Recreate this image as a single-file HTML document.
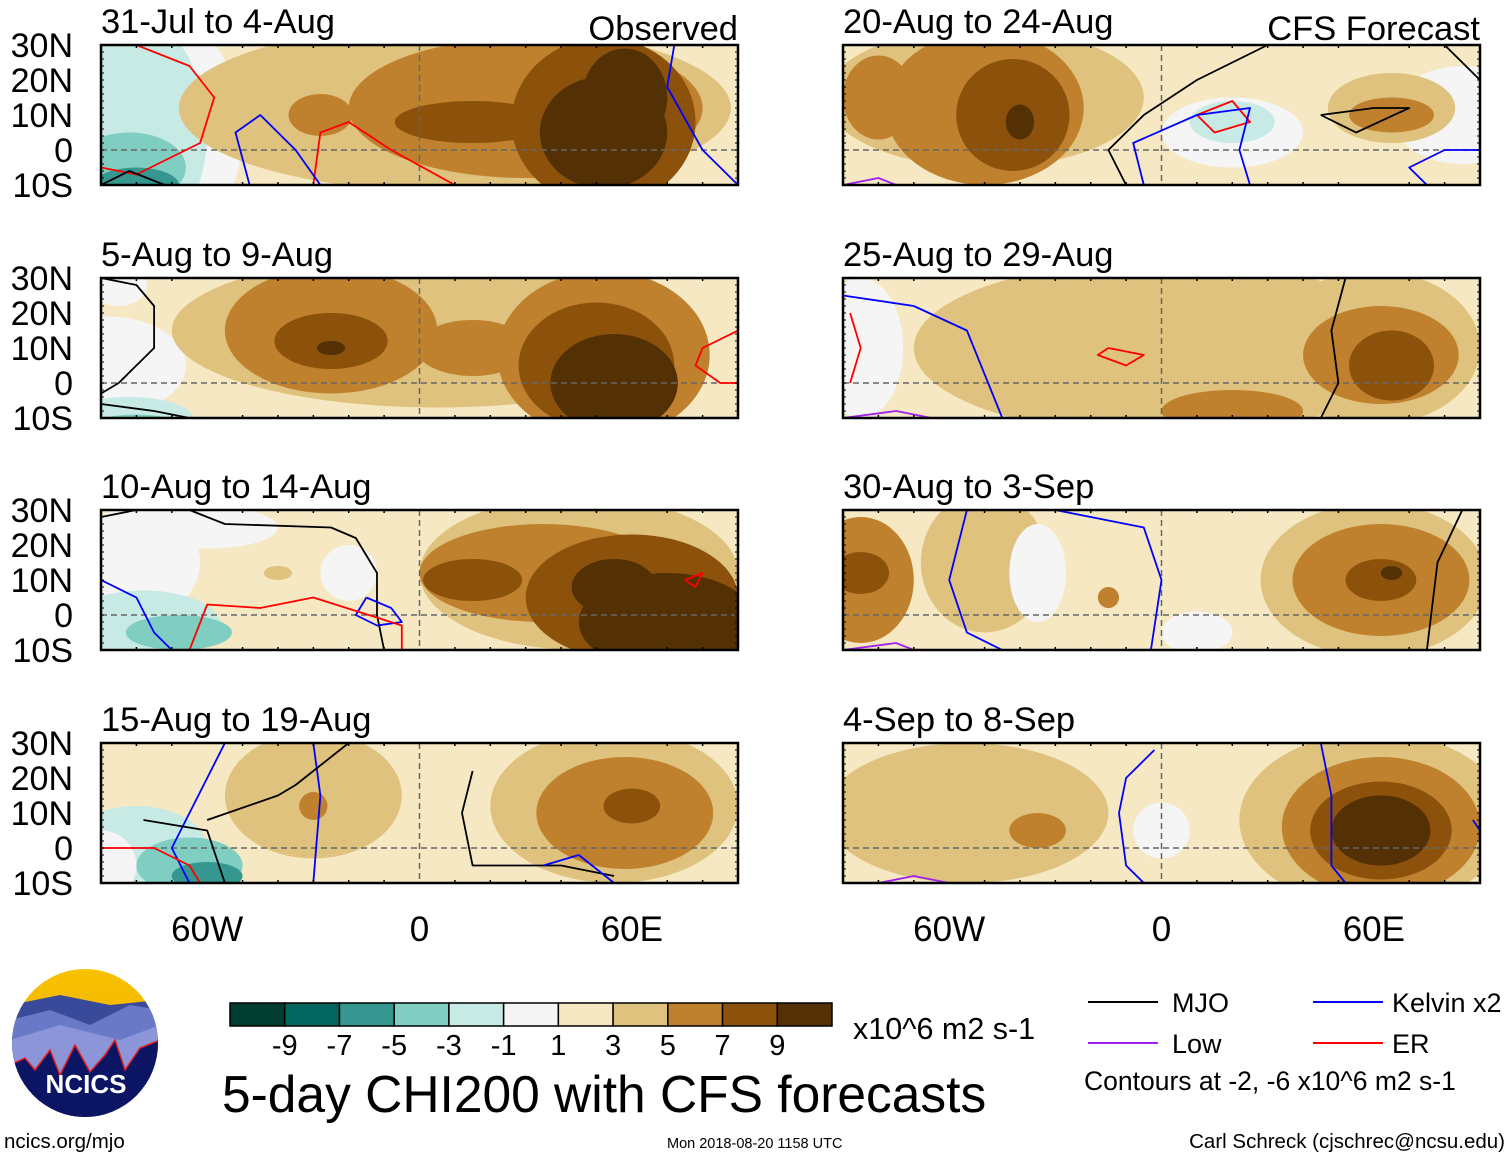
<!DOCTYPE html>
<html><head><meta charset="utf-8"><style>
body{margin:0;background:#fff;}
svg{display:block;font-family:"Liberation Sans",sans-serif;}
</style></head><body>
<svg id="fig" width="1510" height="1158" viewBox="0 0 1510 1158" xmlns="http://www.w3.org/2000/svg">
<defs>
<linearGradient id="sky" x1="0" y1="0" x2="0" y2="1"><stop offset="0" stop-color="#f7c200"/><stop offset="1" stop-color="#f0a800"/></linearGradient>
<clipPath id="logoclip"><ellipse cx="85" cy="1043" rx="73" ry="74"/></clipPath>
</defs>
<g id="panels"></g>

<g id="cbar"></g>
<text x="853" y="1039" font-size="30.5">x10^6 m2 s-1</text>
<text x="222" y="1112" font-size="51.5">5-day CHI200 with CFS forecasts</text>
<text x="4" y="1148" font-size="20.5">ncics.org/mjo</text>
<text x="667" y="1148" font-size="14.5">Mon 2018-08-20 1158 UTC</text>
<text x="1505" y="1148" font-size="20.5" text-anchor="end">Carl Schreck (cjschrec@ncsu.edu)</text>

<g>
<line x1="1088" y1="1002" x2="1158" y2="1002" stroke="#000" stroke-width="2"/>
<text x="1172" y="1012" font-size="27">MJO</text>
<line x1="1088" y1="1043" x2="1158" y2="1043" stroke="#a020f0" stroke-width="2"/>
<text x="1172" y="1053" font-size="27">Low</text>
<line x1="1313" y1="1002" x2="1383" y2="1002" stroke="#0000ff" stroke-width="2"/>
<text x="1392" y="1012" font-size="27">Kelvin x2</text>
<line x1="1313" y1="1043" x2="1383" y2="1043" stroke="#ff0000" stroke-width="2"/>
<text x="1392" y="1053" font-size="27">ER</text>
<text x="1084" y="1090" font-size="26.5">Contours at -2, -6 x10^6 m2 s-1</text>
</g>

<g clip-path="url(#logoclip)">
<rect x="10" y="968" width="150" height="150" fill="url(#sky)"/>
<polygon points="10,1005 60,995 110,1005 160,1000 160,1118 10,1118" fill="#3a4a9a"/>
<polygon points="10,1020 50,1010 90,1025 130,1005 160,1010 160,1118 10,1118" fill="#6a78c8"/>
<polygon points="10,1040 60,1025 120,1040 160,1025 160,1118 10,1118" fill="#8b95d8"/>
<polygon points="10,1065 25,1058 35,1070 50,1050 60,1075 75,1045 90,1072 105,1055 115,1040 125,1070 140,1048 160,1040 160,1118 10,1118" fill="#0c1464" stroke="#e02020" stroke-width="1.5"/>
<text x="86" y="1093" font-size="26" font-weight="bold" fill="#fff" text-anchor="middle">NCICS</text>
</g>

<script>
const palette = ["#003c30","#01665e","#35978f","#80cdc1","#c7eae5","#f5f5f5","#f6e8c3","#dfc27d","#bf812d","#8c510a","#543005"];
const cbarTicks = ["-9","-7","-5","-3","-1","1","3","5","7","9"];
const panelTitles = ["31-Jul to 4-Aug","5-Aug to 9-Aug","10-Aug to 14-Aug","15-Aug to 19-Aug","20-Aug to 24-Aug","25-Aug to 29-Aug","30-Aug to 3-Sep","4-Sep to 8-Sep"];
const latTicks = [30,20,10,0,-10];
const latLabels = ["30N","20N","10N","0","10S"];
const lonTicks = [-60,0,60];
const lonLabels = ["60W","0","60E"];
// blobs: [lon, lat, rxDeg, ryDeg, level]
const blobs0 = [[-85,5,35,40,5],[-85,5,25,35,4],[-82,-5,16,10,3],[-80,-10,12,5,2],[10,12,78,24,7],[-35,8,20,14,7],[-28,10,9,6,8],[30,12,50,20,8],[15,8,22,6,9],[52,8,26,24,9],[52,5,18,16,10],[58,15,12,14,10]];
const blobs1 = [[-88,5,22,14,5],[-85,28,8,6,5],[-82,-10,18,6,4],[-80,-12,12,3,3],[5,15,75,22,7],[-25,15,30,18,8],[-25,12,16,8,9],[-25,10,4,2,10],[15,10,16,8,8],[52,8,30,24,8],[50,5,22,18,9],[55,0,18,14,10]];
const blobs2 = [[-80,15,18,16,5],[-60,25,20,6,5],[-78,-3,22,10,4],[-68,-5,15,5,3],[-40,12,4,2,7],[-20,12,8,8,5],[45,12,45,22,7],[35,12,35,14,8],[15,10,14,6,9],[60,5,30,18,9],[70,-2,25,14,10],[55,8,12,8,10]];
const blobs3 = [[-80,0,20,12,4],[-65,-5,15,8,3],[-60,-8,10,4,2],[-90,-5,10,10,5],[-30,15,25,18,7],[-30,12,4,4,8],[55,12,35,22,7],[58,10,25,16,8],[60,12,8,5,9]];
const blobs4 = [[-50,15,45,20,7],[-50,12,28,22,8],[-42,10,16,16,9],[-40,8,4,5,10],[20,5,20,10,5],[20,8,12,6,4],[85,10,20,14,5],[65,12,18,10,7],[65,10,12,5,8],[-80,15,10,12,8]];
const blobs5 = [[0,10,70,25,7],[-85,10,12,20,5],[-5,0,40,8,7],[20,-8,20,6,8],[60,10,30,22,7],[62,8,22,14,8],[65,5,12,10,9]];
const blobs6 = [[-85,10,15,18,8],[-85,12,8,6,9],[-50,15,18,20,7],[-35,12,8,14,5],[10,-5,10,6,5],[60,10,32,22,7],[62,10,25,16,8],[62,10,10,6,9],[65,12,3,2,10],[-15,5,3,3,8]];
const blobs7 = [[-55,10,40,20,7],[-35,5,8,5,8],[60,8,38,25,7],[62,6,28,20,8],[62,5,20,14,9],[62,5,14,10,10],[0,5,8,8,5]];
// contours: [type, [[lon,lat],...]]
const lines0 = [["er",[[-80,30],[-65,24],[-58,15],[-62,2],[-80,-7],[-90,-5]]],["er",[[-30,-10],[-28,5],[-20,8],[-8,0],[10,-10]]],["kel",[[-48,-10],[-52,5],[-45,10],[-35,0],[-28,-10]]],["kel",[[72,30],[70,18],[80,0],[90,-10]]],["mjo",[[-90,-10],[-82,-6],[-72,-10]]]];
const lines1 = [["mjo",[[-90,30],[-80,28],[-75,22],[-75,10],[-85,0],[-90,-3]]],["mjo",[[-90,-6],[-75,-8],[-65,-10]]],["er",[[90,15],[80,10],[78,5],[85,0],[90,0]]]];
const lines2 = [["mjo",[[-90,28],[-80,30]]],["mjo",[[-65,30],[-55,26],[-25,25],[-18,22],[-12,12],[-12,0],[-10,-10]]],["kel",[[-90,10],[-80,5],[-75,-5],[-70,-10]]],["kel",[[-15,5],[-8,2],[-5,-2],[-12,-3],[-18,0],[-15,5]]],["er",[[-65,-10],[-60,3],[-45,2],[-30,5],[-5,-3],[-5,-10]]],["er",[[75,10],[80,12],[78,8],[75,10]]]];
const lines3 = [["kel",[[-55,30],[-65,10],[-70,0],[-65,-10]]],["kel",[[-30,30],[-28,15],[-30,-10]]],["mjo",[[-78,8],[-60,5],[-55,-10]]],["mjo",[[-20,30],[-35,18],[-40,15],[-60,8]]],["mjo",[[15,22],[12,10],[15,-5],[40,-5],[55,-8]]],["er",[[-90,0],[-75,0],[-65,-5],[-62,-10]]],["kel",[[35,-5],[45,-2],[55,-10]]]];
const lines4 = [["mjo",[[30,30],[10,20],[-5,10],[-15,0],[-10,-10]]],["er",[[10,10],[20,14],[25,8],[15,5],[10,10]]],["kel",[[-5,-10],[-8,2],[10,10],[25,12],[22,0],[25,-10]]],["mjo",[[45,10],[60,12],[70,12],[55,5],[45,10]]],["mjo",[[80,30],[90,20],[90,-10]]],["kel",[[75,-10],[70,-5],[80,0],[90,0]]],["low",[[-90,-10],[-80,-8],[-75,-10]]]];
const lines5 = [["kel",[[-90,25],[-70,22],[-55,15],[-45,-10]]],["er",[[-88,20],[-85,10],[-88,0]]],["er",[[-15,10],[-5,8],[-10,5],[-18,8],[-15,10]]],["mjo",[[52,30],[48,15],[50,0],[45,-10]]],["low",[[-90,-10],[-75,-8],[-65,-10]]]];
const lines6 = [["kel",[[-55,30],[-60,10],[-55,-5],[-45,-10]]],["kel",[[-30,30],[-5,25],[0,10],[-3,-10]]],["mjo",[[85,30],[78,15],[75,-10]]],["low",[[-90,-10],[-75,-8],[-70,-10]]]];
const lines7 = [["kel",[[-2,28],[-10,20],[-12,10],[-10,-5],[-5,-10]]],["kel",[[45,30],[48,15],[48,-5],[52,-10]]],["kel",[[88,8],[90,5]]],["low",[[-80,-10],[-70,-8],[-60,-10]]]];
const allBlobs = [blobs0,blobs1,blobs2,blobs3,blobs4,blobs5,blobs6,blobs7];
const allLines = [lines0,lines1,lines2,lines3,lines4,lines5,lines6,lines7];
const lineColors = {mjo:"#000",kel:"#0000ff",er:"#ff0000",low:"#a020f0"};

const NS="http://www.w3.org/2000/svg";
function mk(tag, attrs, parent){const e=document.createElementNS(NS,tag);for(const k in attrs)e.setAttribute(k,attrs[k]);parent.appendChild(e);return e;}
const PW=637, PH=140;
const colX=[101,843], rowY=[45,278,510,743];
const root=document.getElementById('panels');
const defs=document.querySelector('defs');
for(let p=0;p<8;p++){
  const col=p<4?0:1, row=p%4;
  const x0=colX[col], y0=rowY[row];
  const xs=lon=>x0+(lon+90)/180*PW;
  const ys=lat=>y0+(30-lat)/40*PH;
  const g=mk('g',{},root);
  
  
  const cp=mk('clipPath',{id:'cp'+p},defs);
  mk('rect',{x:x0,y:y0,width:PW,height:PH},cp);
  const inner=mk('g',{'clip-path':'url(#cp'+p+')'},g);
  mk('rect',{x:x0,y:y0,width:PW,height:PH,fill:palette[6]},inner);
  allBlobs[p].forEach(b=>{
    const e=mk('ellipse',{cx:xs(b[0]),cy:ys(b[1]),rx:b[2]/180*PW,ry:b[3]/40*PH,fill:palette[b[4]]},inner);
    
    
  });
  mk('line',{x1:x0,y1:ys(0),x2:x0+PW,y2:ys(0),stroke:'#666','stroke-width':1.5,'stroke-dasharray':'6,4'},inner);
  mk('line',{x1:xs(0),y1:y0,x2:xs(0),y2:y0+PH,stroke:'#666','stroke-width':1.5,'stroke-dasharray':'6,4'},inner);
  allLines[p].forEach(l=>{
    const d=l[1].map((pt,i)=>(i?'L':'M')+xs(pt[0]).toFixed(1)+','+ys(pt[1]).toFixed(1)).join(' ');
    const e=mk('path',{d:d,fill:'none',stroke:lineColors[l[0]],'stroke-width':1.8,'stroke-linejoin':'round'},inner);
    
    
  });
  mk('rect',{x:x0,y:y0,width:PW,height:PH,fill:'none',stroke:'#000','stroke-width':2.5},g);
  for(let lon=-90;lon<=90;lon+=10){
    const big=lon%60===0;
    mk('line',{x1:xs(lon),y1:y0,x2:xs(lon),y2:y0-(big?4:0)+3,stroke:'#000','stroke-width':1.5},g);
    mk('line',{x1:xs(lon),y1:y0+PH,x2:xs(lon),y2:y0+PH+(big?4:0)-3,stroke:'#000','stroke-width':1.5},g);
  }
  for(let lat=-10;lat<=30;lat+=2){
    mk('line',{x1:x0,y1:ys(lat),x2:x0+3,y2:ys(lat),stroke:'#000','stroke-width':1},g);
    mk('line',{x1:x0+PW,y1:ys(lat),x2:x0+PW-3,y2:ys(lat),stroke:'#000','stroke-width':1},g);
  }
  const t=mk('text',{x:x0,y:y0-12,'font-size':34.5},g);
  t.textContent=panelTitles[p];
  
  
  if(p===0||p===4){
    const s=mk('text',{x:x0+PW,y:y0-5,'font-size':34.5,'text-anchor':'end'},g);
    s.textContent=p===0?'Observed':'CFS Forecast';
    
    
  }
  if(col===0){
    latTicks.forEach((lat,i)=>{
      const l=mk('text',{x:73,y:ys(lat)+12,'font-size':34,'text-anchor':'end'},g);
      l.textContent=latLabels[i];
      
      
    });
  }
  if(row===3){
    lonTicks.forEach((lon,i)=>{
      const l=mk('text',{x:xs(lon),y:941,'font-size':35,'text-anchor':'middle'},g);
      l.textContent=lonLabels[i];
      
      
    });
  }
}
const cb=document.getElementById('cbar');
const cbX=230, cbW=602/11;
palette.forEach((c,i)=>{
  const r=mk('rect',{x:cbX+i*cbW,y:1003,width:cbW,height:23,fill:c,stroke:'#000','stroke-width':1.5},cb);
  
  
});
cbarTicks.forEach((t,i)=>{
  const l=mk('text',{x:cbX+(i+1)*cbW,y:1055,'font-size':29,'text-anchor':'middle'},cb);
  l.textContent=t;
  
  
});
</script>
</svg>
</body></html>
